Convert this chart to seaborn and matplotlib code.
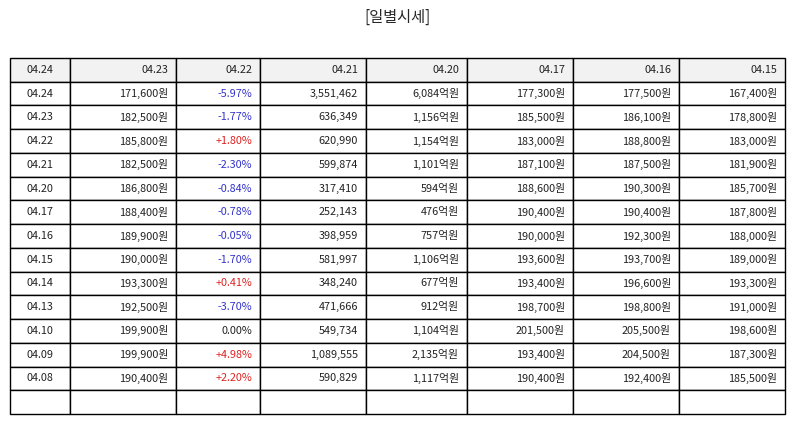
import matplotlib.pyplot as plt
import seaborn as sns

sns.set_style('white')
plt.rcParams['font.family'] = ['Noto Sans CJK KR', 'DejaVu Sans']

header = ['04.24', '04.23', '04.22', '04.21', '04.20', '04.17', '04.16', '04.15']
dates = ['04.24', '04.23', '04.22', '04.21', '04.20', '04.17', '04.16', '04.15',
         '04.14', '04.13', '04.10', '04.09', '04.08']
close = ['171,600원', '182,500원', '185,800원', '182,500원', '186,800원', '188,400원', '189,900원',
         '190,000원', '193,300원', '192,500원', '199,900원', '199,900원', '190,400원']
change = ['-5.97%', '-1.77%', '+1.80%', '-2.30%', '-0.84%', '-0.78%', '-0.05%',
          '-1.70%', '+0.41%', '-3.70%', '0.00%', '+4.98%', '+2.20%']
volume = ['3,551,462', '636,349', '620,990', '599,874', '317,410', '252,143', '398,959',
          '581,997', '348,240', '471,666', '549,734', '1,089,555', '590,829']
amount = ['6,084억원', '1,156억원', '1,154억원', '1,101억원', '594억원', '476억원', '757억원',
          '1,106억원', '677억원', '912억원', '1,104억원', '2,135억원', '1,117억원']
open_ = ['177,300원', '185,500원', '183,000원', '187,100원', '188,600원', '190,400원', '190,000원',
         '193,600원', '193,400원', '198,700원', '201,500원', '193,400원', '190,400원']
high = ['177,500원', '186,100원', '188,800원', '187,500원', '190,300원', '190,400원', '192,300원',
        '193,700원', '196,600원', '198,800원', '205,500원', '204,500원', '192,400원']
low = ['167,400원', '178,800원', '183,000원', '181,900원', '185,700원', '187,800원', '188,000원',
       '189,000원', '193,300원', '191,000원', '198,600원', '187,300원', '185,500원']

rows = [list(r) for r in zip(dates, close, change, volume, amount, open_, high, low)]
rows.append([''] * 8)
px_widths = [60, 106, 84, 106, 101, 106, 106, 106]
widths = [w / sum(px_widths) for w in px_widths]

fig = plt.figure(figsize=(7.94, 4.25), dpi=100)
ax = fig.add_axes([0, 0, 1, 1])
ax.axis('off')
fig.text(0.5, 0.96, '[일별시세]', ha='center', va='center', fontsize=11)

tab = ax.table(cellText=[header] + rows, colWidths=widths,
               bbox=[10 / 794, 11 / 425, 775 / 794, 356 / 425])
tab.auto_set_font_size(False)
for (r, c), cell in tab.get_celld().items():
    cell.set_linewidth(1.0)
    cell.set_edgecolor('black')
    txt = cell.get_text()
    txt.set_fontsize(7.8)
    txt.set_color('#222222')
    if c == 0:
        txt.set_ha('center')
        cell._loc = 'center'
    else:
        txt.set_ha('right')
        cell._loc = 'right'
        cell.PAD = 8 / px_widths[c]
    if r == 0:
        cell.set_facecolor('#f2f2f2')
    if c == 2 and r > 0:
        s = txt.get_text()
        if s.startswith('-'):
            txt.set_color('#3333cc')
        elif s.startswith('+'):
            txt.set_color('#dd2222')

fig.savefig('out.png', dpi=100)
